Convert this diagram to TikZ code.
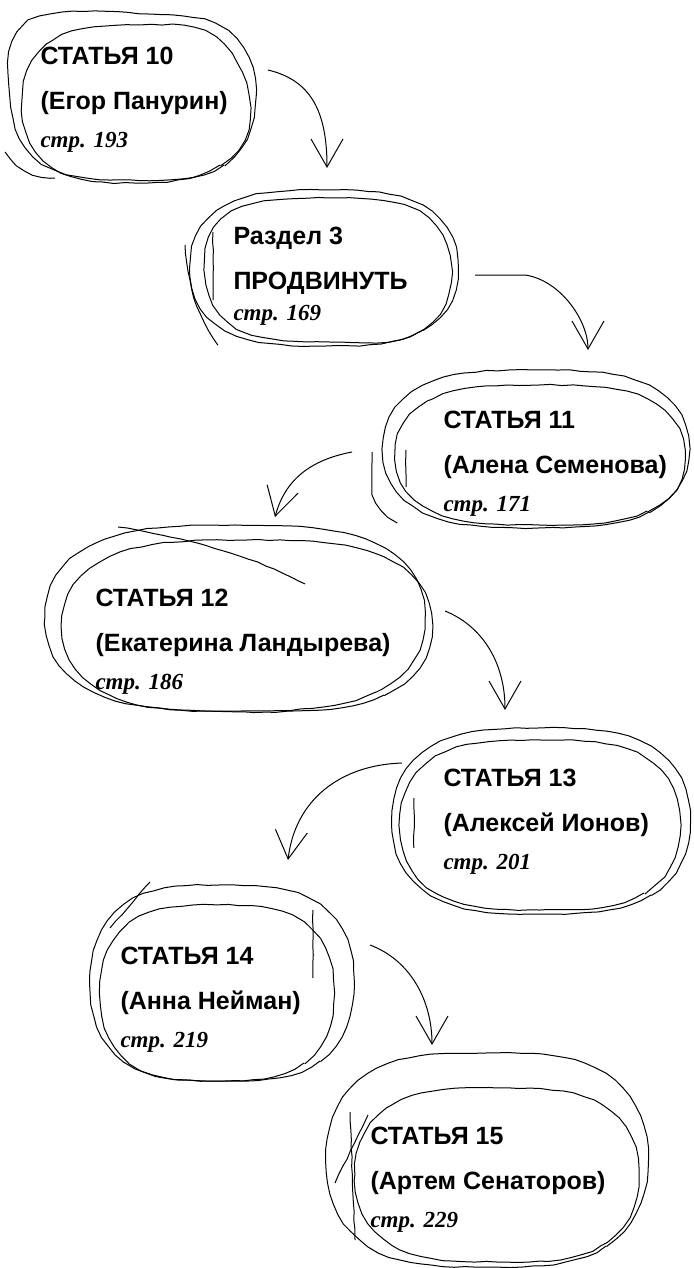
\documentclass[tikz,border=0pt]{standalone}
\usepackage{fontspec}
\setmainfont{Liberation Sans}
\newfontfamily\pagefont{Liberation Serif}
\usetikzlibrary{arrows.meta,decorations.pathmorphing}

\begin{document}
\pgfmathsetseed{11}
\begin{tikzpicture}[x=1pt,y=-1pt,line width=1pt,
	entry/.style={anchor=north west,inner sep=0pt,align=left,font=\fontsize{25}{45}\selectfont\bfseries},
	blob/.style={draw,decorate,decoration={random steps,segment length=11pt,amplitude=0.6pt}},
	scribble/.style={draw,decorate,decoration={random steps,segment length=9pt,amplitude=0.5pt}},
	sketcharrow/.style={-{Straight Barb[length=28pt,width=32pt,line width=1pt]}}]

	\useasboundingbox (0,0) rectangle (693,1268);

	% text of every entry
	\node[entry] (t10) at (40,47) {СТАТЬЯ 10\\(Егор Панурин)\\[-7pt]{\pagefont\itshape\fontsize{23}{26}\selectfont стр. 193}};
	\node[entry] (r3) at (233,227) {Раздел 3\\ПРОДВИНУТЬ\\[-14pt]{\pagefont\itshape\fontsize{23}{26}\selectfont стр. 169}};
	\node[entry] (t11) at (443,411) {СТАТЬЯ 11\\(Алена Семенова)\\[-7pt]{\pagefont\itshape\fontsize{23}{26}\selectfont стр. 171}};
	\node[entry] (t12) at (95,589) {СТАТЬЯ 12\\(Екатерина Ландырева)\\[-7pt]{\pagefont\itshape\fontsize{23}{26}\selectfont стр. 186}};
	\node[entry] (t13) at (443,769) {СТАТЬЯ 13\\(Алексей Ионов)\\[-7pt]{\pagefont\itshape\fontsize{23}{26}\selectfont стр. 201}};
	\node[entry] (t14) at (120,947) {СТАТЬЯ 14\\(Анна Нейман)\\[-7pt]{\pagefont\itshape\fontsize{23}{26}\selectfont стр. 219}};
	\node[entry] (t15) at (370,1127) {СТАТЬЯ 15\\(Артем Сенаторов)\\[-7pt]{\pagefont\itshape\fontsize{23}{26}\selectfont стр. 229}};

	% hand drawn loops
	\draw[blob] plot[smooth cycle,tension=0.7] coordinates {(256,96) (224,165) (132,180) (42,163) (10,96) (30,22) (150,14) (228,32)};
	\draw[blob] plot[smooth cycle,tension=0.7] coordinates {(250,108) (220,165) (136,183) (52,167) (22,103) (52,41) (140,25) (216,38)};
	\draw[scribble] (5,152) .. controls (18,170) and (30,176) .. (55,178);

	\draw[blob] plot[smooth cycle,tension=0.7] coordinates {(458,268) (423,330) (324,346) (225,330) (190,268) (225,206) (324,190) (423,206)};
	\draw[blob] plot[smooth cycle,tension=0.7] coordinates {(451,272) (419,332) (328,342) (237,328) (205,270) (232,212) (328,198) (419,212)};
	\draw[scribble] (213,232) -- (213,300);
	\draw[scribble] (185,245) .. controls (188,290) and (200,320) .. (218,345);

	\draw[blob] plot[smooth cycle,tension=0.7] coordinates {(689,449) (649,512) (536,528) (423,512) (383,449) (423,386) (536,370) (649,386)};
	\draw[blob] plot[smooth cycle,tension=0.7] coordinates {(685,458) (647,511) (540,525) (433,511) (395,455) (433,399) (540,385) (647,399)};
	\draw[scribble] (372,452) -- (372,495) .. controls (378,508) and (385,516) .. (398,522);
	\draw[scribble] (406,450) -- (406,487);

	\draw[blob] plot[smooth cycle,tension=0.7] coordinates {(425,618) (376,692) (235,711) (94,692) (45,618) (94,544) (235,525) (376,544)};
	\draw[blob] plot[smooth cycle,tension=0.7] coordinates {(432,626) (384,695) (247,712) (110,695) (62,626) (110,557) (247,540) (384,557)};
	\draw[scribble] (118,527) .. controls (200,540) and (260,560) .. (305,584);

	\draw[blob] plot[smooth cycle,tension=0.7] coordinates {(690,821) (651,895) (541,914) (431,895) (392,821) (431,747) (541,728) (651,747)};
	\draw[blob] plot[smooth cycle,tension=0.7] coordinates {(680,825) (644,893) (540,910) (436,893) (400,825) (436,757) (540,740) (644,757)};
	\draw[scribble] (414,798) -- (414,848);

	\draw[blob] plot[smooth cycle,tension=0.7] coordinates {(354,983) (320,1061) (222,1081) (124,1061) (90,983) (124,905) (222,885) (320,905)};
	\draw[blob] plot[smooth cycle,tension=0.7] coordinates {(334,993) (304,1063) (217,1081) (130,1063) (100,993) (130,923) (217,905) (304,923)};
	\draw[scribble] (313,910) -- (313,978);
	\draw[scribble] (110,928) -- (150,882);

	\draw[blob] plot[smooth cycle,tension=0.7] coordinates {(648,1160) (606,1246) (487,1267) (368,1246) (326,1160) (368,1074) (487,1053) (606,1074)};
	\draw[blob] plot[smooth cycle,tension=0.7] coordinates {(639,1175) (602,1245) (497,1262) (392,1245) (355,1175) (392,1105) (497,1088) (602,1105)};
	\draw[scribble] (350,1112) -- (355,1240);
	\draw[scribble] (335,1183) -- (368,1115);

	% arrows between the entries
	\draw[sketcharrow] ([shift={(228,23)}]t10.north west) .. controls +(42,10) and +(0,-58) .. ([shift={(94,-59)}]r3.north west);
	\draw[sketcharrow] ([shift={(242,48)}]r3.north west) -- +(50,0) .. controls +(35,5) and +(0,-30) .. ([shift={(145,-61)}]t11.north west);
	\draw[sketcharrow] ([shift={(-91,41)}]t11.north west) .. controls +(-42,8) and +(10,-37) .. ([shift={(180,-72)}]t12.north west);
	\draw[sketcharrow] ([shift={(350,22)}]t12.north west) .. controls +(35,14) and +(0,-50) .. ([shift={(62,-59)}]t13.north west);
	\draw[sketcharrow] ([shift={(-41,-6)}]t13.north west) .. controls +(-62,2) and +(7,-60) .. ([shift={(168,-87)}]t14.north west);
	\draw[sketcharrow] ([shift={(250,-2)}]t14.north west) .. controls +(40,15) and +(0,-45) .. ([shift={(62,-82)}]t15.north west);
\end{tikzpicture}
\end{document}
